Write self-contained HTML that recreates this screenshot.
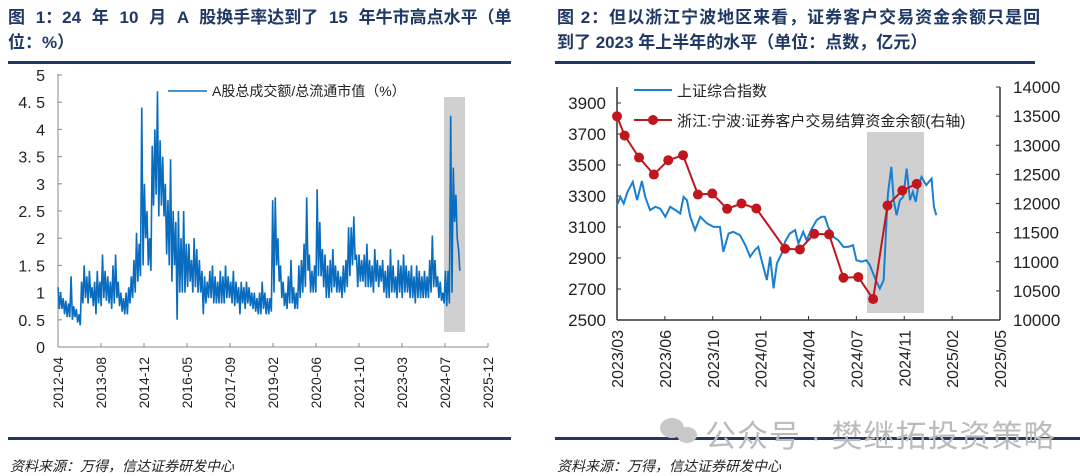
<!DOCTYPE html>
<html><head><meta charset="utf-8">
<style>
body{margin:0;width:1080px;height:475px;background:#fff;overflow:hidden;font-family:"Liberation Sans","Noto Sans CJK SC",sans-serif;}
.t{position:absolute;font-weight:bold;color:#1f3864;font-size:17px;line-height:25px;}
.t .l1{display:block;text-align:justify;text-align-last:justify;white-space:nowrap;}
.t .l1, .t .l2{display:block}
.rule{position:absolute;height:3px;background:#1f3864;}
.src{position:absolute;font-style:italic;font-size:14px;color:#222;top:456px;}
svg{position:absolute;left:0;top:0}
</style></head><body>
<div class="t" style="left:8px;top:5px;width:503px;"><span class="l1" style="word-spacing:6px">图 1：24 年 10 月 A 股换手率达到了 15 年牛市高点水平（单</span><span class="l2">位：%）</span></div>
<div class="t" style="left:557px;top:5px;width:476px;"><span class="l1" style="letter-spacing:1px">图 2：但以浙江宁波地区来看，证券客户交易资金余额只是回</span><span class="l2">到了 2023 年上半年的水平（单位：点数，亿元）</span></div>
<div class="rule" style="left:8px;top:61px;width:503px"></div>
<div class="rule" style="left:555px;top:61px;width:480px"></div>
<div class="rule" style="left:8px;top:437px;width:503px"></div>
<div class="rule" style="left:555px;top:437px;width:525px"></div>
<div class="src" style="left:10px">资料来源：万得，信达证券研发中心</div>
<div class="src" style="left:557px">资料来源：万得，信达证券研发中心</div>
<div style="position:absolute;left:705px;top:411px;font-size:31px;color:#bbb;letter-spacing:1px;white-space:nowrap">公众号 · 樊继拓投资策略</div>
<svg id="chart" width="1080" height="475"></svg>
<script>
// ---- Chart 1 data: month index from 2012-04, semi-monthly hi/lo readings ----
const c1Start = "2012-04";
const c1Hi = [1.1,1.0,0.9,0.85,0.8,1.3,0.75,0.7,0.6,1.2,1.5,1.3,1.4,1.1,1.2,1.4,1.2,1.7,1.4,1.3,1.2,1.5,1.7,1.2,1.0,0.9,1.0,1.1,1.3,1.6,2.1,1.9,4.4,3.0,2.5,2.0,3.7,4.0,4.7,3.8,3.5,3.0,2.7,3.45,2.5,2.3,2.5,2.0,2.5,1.9,1.9,1.6,2.0,1.8,1.6,1.4,1.3,1.2,1.4,1.5,1.3,1.2,1.4,1.3,1.5,1.3,1.2,1.4,1.2,1.1,1.2,1.1,1.2,1.1,1.0,1.0,0.9,1.0,1.2,1.0,0.9,0.9,2.7,2.75,2.0,1.5,1.2,1.0,1.3,1.6,1.1,1.0,1.5,1.6,1.9,2.75,1.7,1.4,1.5,2.9,2.3,1.8,1.7,1.5,1.6,1.8,1.5,1.4,1.3,1.5,1.6,2.2,2.2,2.4,1.7,1.7,1.6,1.7,1.9,1.6,1.5,1.8,1.6,1.5,1.6,1.4,1.5,1.8,1.5,1.3,1.6,1.5,1.7,1.5,1.4,1.5,1.3,1.5,1.4,1.3,1.4,1.3,1.6,2.05,1.6,1.3,1.2,1.0,1.4,1.4,4.25,3.3,2.8,1.8];
const c1Lo = [0.7,0.7,0.6,0.55,0.55,0.5,0.55,0.45,0.4,0.8,0.9,0.8,0.9,0.75,0.6,0.8,0.75,0.9,0.85,0.8,0.7,0.8,0.9,0.75,0.65,0.6,0.6,0.8,0.9,1.0,1.2,1.3,1.5,2.0,1.5,1.4,2.6,2.8,2.4,2.6,2.4,1.7,1.5,1.2,1.5,0.5,1.0,1.0,1.0,1.1,1.2,1.0,1.1,1.0,1.0,0.6,0.8,0.9,0.9,0.8,0.8,0.8,0.8,0.8,0.9,0.9,0.8,0.75,0.8,0.6,0.8,0.7,0.8,0.75,0.7,0.65,0.6,0.6,0.7,0.6,0.6,0.65,1.0,1.5,1.2,0.9,0.75,0.7,0.8,0.8,0.7,0.7,0.9,1.0,1.1,1.4,1.0,1.0,1.0,1.3,1.3,1.1,0.9,0.9,1.0,1.1,1.0,1.0,0.9,1.0,1.1,1.3,1.5,1.6,1.1,1.2,1.2,1.1,1.1,1.1,1.0,1.2,1.1,1.2,1.0,0.9,0.9,1.0,1.0,0.9,1.0,0.9,1.0,1.0,0.9,0.9,0.8,0.9,0.9,0.9,0.9,0.9,1.0,1.1,1.1,0.9,0.85,0.8,0.75,0.8,1.0,2.3,2.0,1.4];
const c1YTicks = ["0","0.5","1","1.5","2","2.5","3","3.5","4","4.5","5"];
const c1XTicks = ["2012-04","2013-08","2014-12","2016-05","2017-09","2019-02","2020-06","2021-10","2023-03","2024-07","2025-12"];

// ---- Chart 2 data: days since 2023-03-15 ----
const c2Start = "2023-03-15";
const idxDays = [0,7,14,22,33,42,52,59,69,80,90,101,111,122,132,139,146,153,163,174,188,202,215,222,233,243,257,268,278,288,295,302,313,320,327,334,344,351,361,372,379,389,396,407,417,427,434,441,452,462,473,483,493,500,511,521,528,535,542,549,557,563,566,573,578,584,591,598,605,612,618,624,629,636,646,657,662,667];
const idxVals = [3241,3294,3251,3327,3391,3273,3397,3294,3209,3230,3219,3166,3230,3209,3187,3294,3273,3166,3080,3166,3123,3101,3101,2940,3058,3069,3047,2983,2908,2951,2972,2886,2758,2908,2704,2865,2929,3005,3058,3080,2994,3069,3015,3090,3144,3166,3166,3101,3037,3015,2972,2972,2983,2886,2876,2886,2854,2801,2747,2704,2758,3144,3316,3488,3273,3176,3273,3294,3477,3273,3327,3262,3359,3423,3370,3412,3230,3176];
const balDates = ["2023-03-15","2023-03-31","2023-04-30","2023-05-31","2023-06-30","2023-07-31","2023-08-31","2023-09-30","2023-10-31","2023-11-30","2023-12-31","2024-02-29","2024-03-31","2024-04-30","2024-05-31","2024-06-30","2024-07-31","2024-08-31","2024-09-30","2024-10-31","2024-11-30"];
const balVals = [13497,13166,12789,12497,12743,12829,12154,12171,11909,12000,11914,11223,11211,11480,11469,10726,10737,10360,11966,12223,12337];
const c2LTicks = ["2500","2700","2900","3100","3300","3500","3700","3900"];
const c2RTicks = ["10000","10500","11000","11500","12000","12500","13000","13500","14000"];
const c2XTicks = ["2023/03","2023/06","2023/10","2024/01","2024/04","2024/07","2024/11","2025/02","2025/05"];

const NS="http://www.w3.org/2000/svg", svg=document.getElementById('chart');
function mk(tag,attrs,parent){const e=document.createElementNS(NS,tag);for(const k in attrs)e.setAttribute(k,attrs[k]);(parent||svg).appendChild(e);return e;}
function txt(s,attrs){const e=mk('text',attrs);e.textContent=s;return e;}
const dayOf=(s,base)=>(Date.parse(s)-Date.parse(base))/864e5;

// ===== Chart 1 =====
const x1=d=>58+d*(430/5000), y1=v=>347-v*54.4;
const m2day=m=>m*30.44;
mk('rect',{x:444,y:97,width:21,height:235,fill:'#d0d0d0'});
const yAx1=mk('line',{x1:58,y1:74,x2:58,y2:347,stroke:'#888'});

const xAx1=mk('line',{x1:58,y1:347,x2:488,y2:347,stroke:'#888'});

c1YTicks.forEach(t=>{const v=+t;mk('line',{x1:58,x2:62,y1:y1(v),y2:y1(v),stroke:'#888'});
 const e=txt(t.replace('.','. '),{x:45,y:y1(v)+6,'text-anchor':'end','font-size':16,fill:'#222'});
 });
c1XTicks.forEach((t,i)=>{const xx=58+i*43;mk('line',{x1:xx,x2:xx,y1:343,y2:347,stroke:'#888'});
 const e=txt(t,{transform:`translate(${xx+5},357) rotate(-90)`,'text-anchor':'end','font-size':14,fill:'#222'});
 });
let p1=[];c1Hi.forEach((h,m)=>{p1.push([x1(m2day(m)),y1(h)]);p1.push([x1(m2day(m+0.5)),y1(c1Lo[m])]);});
const l1=mk('polyline',{points:p1.map(p=>p.join(',')).join(' '),fill:'none',stroke:'#0a6cbf','stroke-width':1.6});

mk('line',{x1:168,x2:207,y1:91,y2:91,stroke:'#0b70c2','stroke-width':1.5});
const lg1=txt('A股总成交额/总流通市值（%）',{x:212,y:96,'font-size':14,fill:'#222'});


// ===== Chart 2 =====
const x2=d=>617+d*(383/800), yL=v=>320-(v-2500)*(217/1400), yR=v=>320-(v-10000)*(233/4000);
mk('rect',{x:867,y:132,width:57,height:181,fill:'#d0d0d0'});
const ax2=mk('line',{x1:617,y1:87,x2:617,y2:320,stroke:'#333','stroke-width':1.5});

const ax2r=mk('line',{x1:1000,y1:87,x2:1000,y2:320,stroke:'#333','stroke-width':1.5});

const ax2x=mk('line',{x1:617,y1:320,x2:1000,y2:320,stroke:'#333','stroke-width':1.5});

c2LTicks.forEach(t=>{const y=yL(+t);mk('line',{x1:617,x2:621,y1:y,y2:y,stroke:'#333'});
 const e=txt(t,{x:606,y:y+6,'text-anchor':'end','font-size':17,fill:'#222'});
 });
c2RTicks.forEach(t=>{const y=yR(+t);mk('line',{x1:996,x2:1000,y1:y,y2:y,stroke:'#333'});
 const e=txt(t,{x:1013,y:y+6,'font-size':17,fill:'#222'});
 });
c2XTicks.forEach((t,i)=>{const xx=x2(i*100);mk('line',{x1:xx,x2:xx,y1:316,y2:320,stroke:'#333'});
 const e=txt(t,{transform:`translate(${xx+6},330) rotate(-90)`,'text-anchor':'end','font-size':16,fill:'#222'});
 });
const l2=mk('polyline',{points:idxDays.map((d,i)=>x2(d)+','+yL(idxVals[i])).join(' '),fill:'none',stroke:'#1a7fd0','stroke-width':2});

const l3=mk('polyline',{points:balDates.map((d,i)=>x2(dayOf(d,c2Start))+','+yR(balVals[i])).join(' '),fill:'none',stroke:'#c0161d','stroke-width':2});

balDates.forEach((d,i)=>{const c=mk('circle',{cx:x2(dayOf(d,c2Start)),cy:yR(balVals[i]),r:5,fill:'#c0161d'});
 });
mk('line',{x1:634,x2:672,y1:90,y2:90,stroke:'#1a7fd0','stroke-width':2});
const lg2=txt('上证综合指数',{x:677,y:96,'font-size':15,fill:'#222'});

mk('line',{x1:634,x2:672,y1:120,y2:120,stroke:'#c0161d','stroke-width':2});
mk('circle',{cx:653,cy:120,r:5,fill:'#c0161d'});
const lg3=txt('浙江:宁波:证券客户交易结算资金余额(右轴)',{x:677,y:126,'font-size':15,fill:'#222'});

// watermark icon
const wi=mk('g',{fill:'#c8c8c8'});
mk('ellipse',{cx:672,cy:428,rx:12,ry:10},wi);mk('ellipse',{cx:687,cy:435,rx:10,ry:8},wi);
</script>
</body></html>
